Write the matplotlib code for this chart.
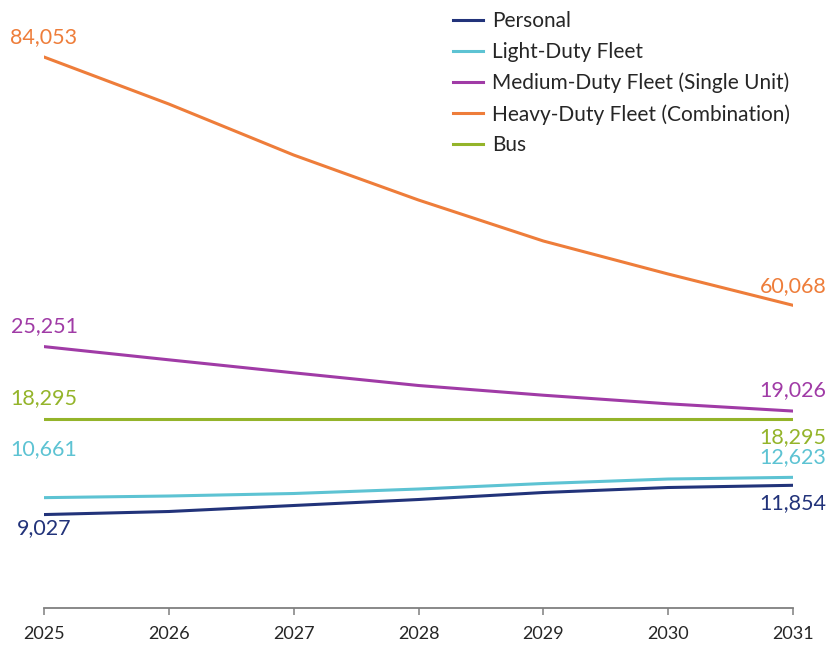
import matplotlib
matplotlib.use("Agg")
import matplotlib.pyplot as plt

plt.rcParams['font.family'] = ['Lato', 'DejaVu Sans']

# vehicle counts by year
years = [2025, 2026, 2027, 2028, 2029, 2030, 2031]
personal = [9027, 9322, 9902, 10481, 11157, 11640, 11854]
light_duty = [10661, 10819, 11061, 11495, 12027, 12461, 12623]
medium_duty = [25251, 23976, 22720, 21494, 20556, 19726, 19026]
heavy_duty = [84053, 79513, 74586, 70239, 66279, 63091, 60068]
bus = [18295, 18295, 18295, 18295, 18295, 18295, 18295]

names = ['Personal', 'Light-Duty Fleet', 'Medium-Duty Fleet (Single Unit)',
         'Heavy-Duty Fleet (Combination)', 'Bus']
colors = ['#22337A', '#5DC3D3', '#A03BA6', '#EE7D3A', '#94B42A']

fig = plt.figure(figsize=(8.3, 6.48), dpi=100)
ax = fig.add_axes([44/830, 40/648, 749/830, 598/648])
ax2 = ax.twinx()

lw = 2.2
ax.plot(years, personal, color=colors[0], lw=lw, label=names[0])
ax.plot(years, light_duty, color=colors[1], lw=lw, label=names[1])
ax.plot(years, medium_duty, color=colors[2], lw=lw, label=names[2])
ax2.plot(years, heavy_duty, color=colors[3], lw=lw, label=names[3])
ax.plot(years, bus, color=colors[4], lw=lw, label=names[4], zorder=1)

span = 57770
ax.set_ylim(0, span)
ax2.set_ylim(30826, 30826 + span)
ax.set_xlim(years[0], years[-1])

for a in (ax, ax2):
    for s in ['top', 'right', 'left']:
        a.spines[s].set_visible(False)
    a.set_yticks([])
ax2.spines['bottom'].set_visible(False)
ax.spines['bottom'].set_color('#7F7F7F')
ax.spines['bottom'].set_linewidth(1.3)
ax.set_xticks(years)
ax.set_xticklabels([str(y) for y in years])
ax.tick_params(axis='x', length=5, width=1.1, color='#7F7F7F',
               labelsize=13, labelcolor='#262626', pad=8)

# start / end value labels (dy in points: positive = above the line)
def label(a, x, y, color, dy):
    a.annotate(f'{y:,}', (x, y), xytext=(0, dy), textcoords='offset points',
               ha='center', va='center', fontsize=15.5, color=color,
               annotation_clip=False)

label(ax2, years[0], heavy_duty[0], colors[3], 14)
label(ax2, years[-1], heavy_duty[-1], colors[3], 14)
label(ax, years[0], medium_duty[0], colors[2], 14.5)
label(ax, years[-1], medium_duty[-1], colors[2], 15)
label(ax, years[0], bus[0], colors[4], 15)
label(ax, years[-1], bus[-1], colors[4], -13)
label(ax, years[0], light_duty[0], colors[1], 35)
label(ax, years[-1], light_duty[-1], colors[1], 14.5)
label(ax, years[0], personal[0], colors[0], -9.5)
label(ax, years[-1], personal[-1], colors[0], -13)

handles = ax.get_legend_handles_labels()[0]
h2 = ax2.get_legend_handles_labels()[0]
order = [handles[0], handles[1], handles[2], h2[0], handles[3]]
fig.legend(order, names, loc='upper left', bbox_to_anchor=(434/830, 1.012),
           frameon=False, fontsize=15, handlelength=1.45, handletextpad=0.45,
           labelspacing=0.52, labelcolor='#262626')

fig.savefig('out.png', dpi=100, facecolor='white')
